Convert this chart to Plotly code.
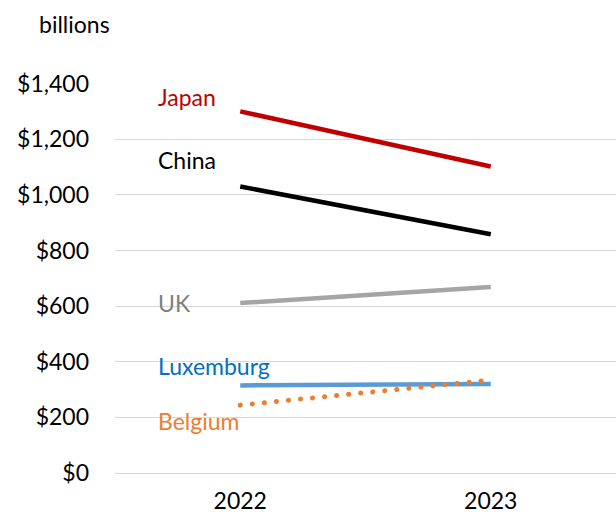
import plotly.graph_objects as go

years = ["2022", "2023"]
japan = [1300, 1102]
china = [1030, 858]
uk = [611, 669]
luxemburg = [315, 320]
belgium = [244, 334]
ytick_vals = [0, 200, 400, 600, 800, 1000, 1200, 1400]
ytick_text = ["$0", "$200", "$400", "$600", "$800", "$1,000", "$1,200", "$1,400"]

series = [
    ("Japan", japan, "#C00000", "solid", "#C00000", 1350),
    ("China", china, "#000000", "solid", "#000000", 1124),
    ("UK", uk, "#A5A5A5", "solid", "#7F7F7F", 610),
    ("Luxemburg", luxemburg, "#5B9BD5", "solid", "#0070C0", 384),
    ("Belgium", belgium, "#ED7D31", "0.1px,12px", "#ED7D31", 187),
]

FONT = "Lato, 'Open Sans', sans-serif"
FS = 23

fig = go.Figure()
for name, vals, color, dash, tcolor, ly in series:
    fig.add_trace(go.Scatter(x=years, y=vals, mode="lines", name=name,
                             line=dict(color=color, width=5 if dash != "solid" else 4.5, dash=dash),
                             showlegend=False, hoverinfo="skip"))
    fig.add_annotation(x=-0.335, y=ly, xref="x", yref="y", text=name,
                       showarrow=False, xanchor="left", yanchor="middle",
                       font=dict(family=FONT, size=FS, color=tcolor))

fig.add_annotation(x=-0.08, y=1.151, xref="paper", yref="paper", text="billions",
                   showarrow=False, xanchor="center", yanchor="middle",
                   font=dict(family=FONT, size=FS, color="#000000"))

fig.update_layout(
    width=616, height=515,
    margin=dict(l=115, r=0, t=83, b=42),
    paper_bgcolor="white", plot_bgcolor="white",
    font=dict(family=FONT, size=FS, color="#000000"),
)
fig.update_xaxes(type="category", range=[-0.5, 1.5], showgrid=False,
                 showline=False, zeroline=False, ticks="", ticklabelstandoff=12,
                 tickfont=dict(size=FS), automargin=False)
fig.update_yaxes(range=[0, 1402], tickmode="array", tickvals=ytick_vals,
                 ticktext=ytick_text, showgrid=True, gridcolor="#D9D9D9",
                 gridwidth=1.3, zeroline=True, zerolinecolor="#D9D9D9",
                 zerolinewidth=1.3, showline=False, ticks="",
                 ticklabelstandoff=25, tickfont=dict(size=FS), automargin=False)

post = """
document.body.style.margin='0';
document.querySelectorAll('path.js-line').forEach(function(p){
  if (p.style.strokeDasharray && p.style.strokeDasharray !== 'none') {
    p.style.strokeLinecap = 'round';
  }
});
"""
fig.write_html("out.html", config={"displayModeBar": False}, post_script=post)
